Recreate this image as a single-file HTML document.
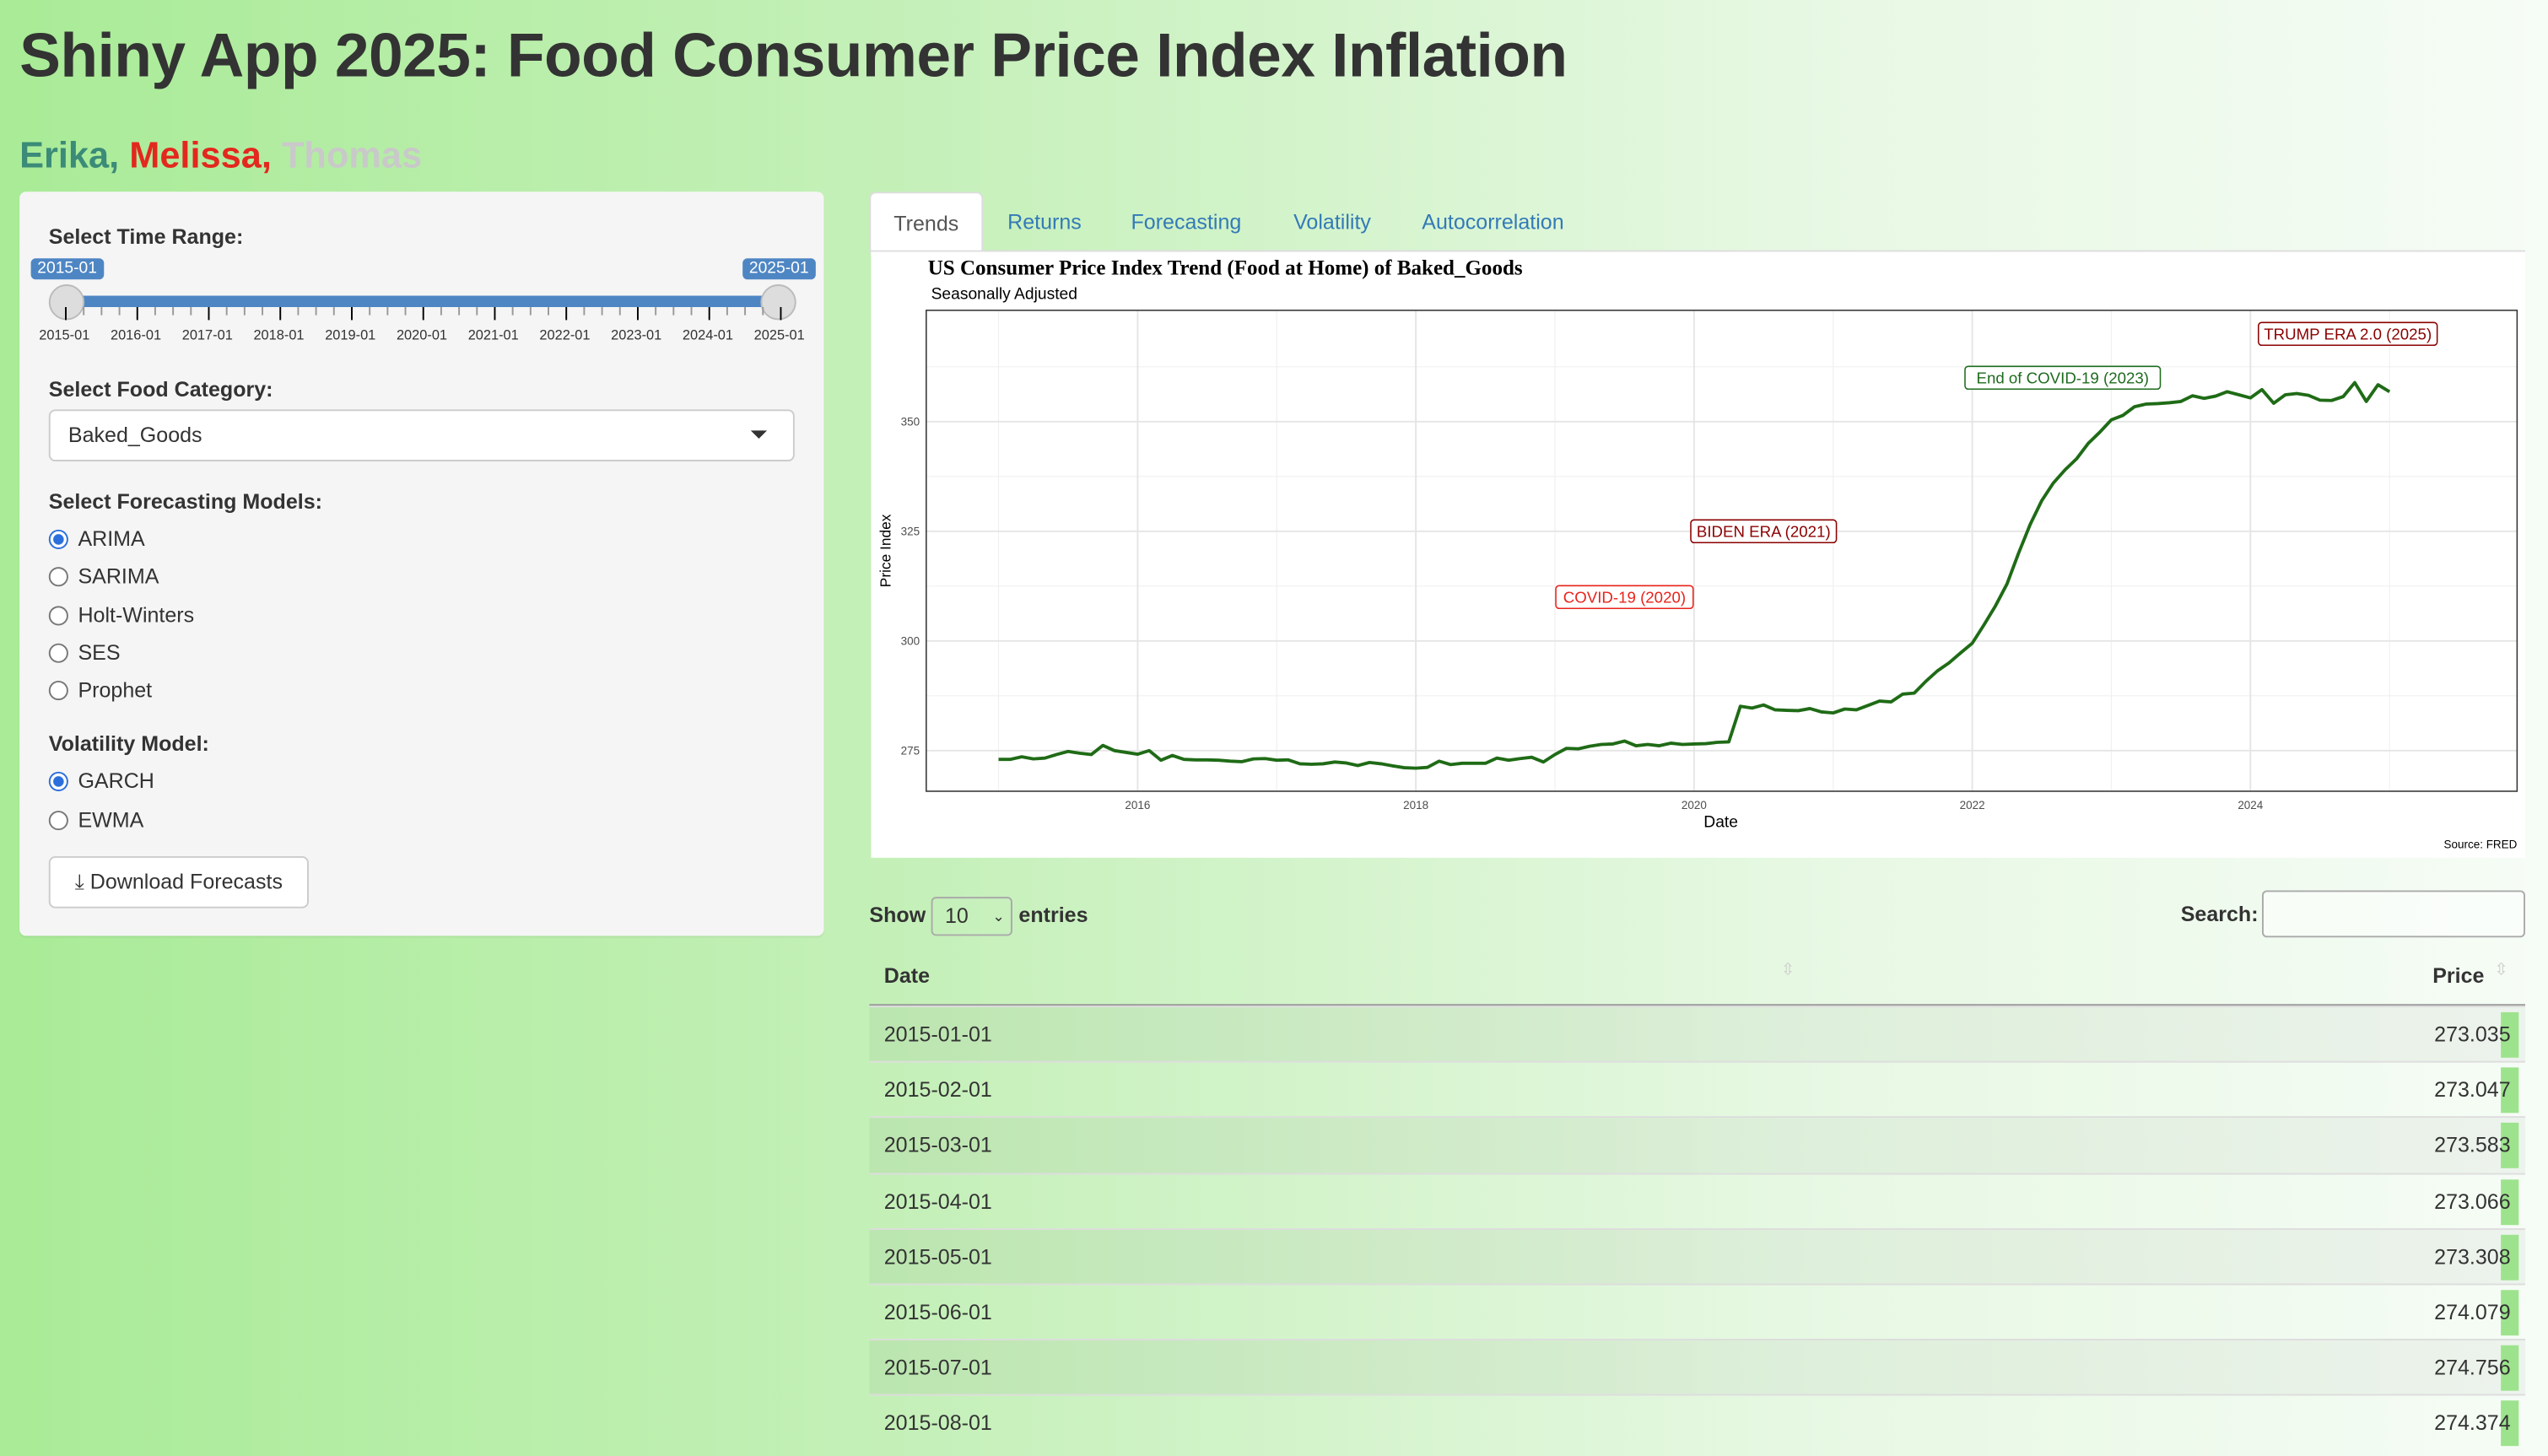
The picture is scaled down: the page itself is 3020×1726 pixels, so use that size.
<!DOCTYPE html>
<html><head><meta charset="utf-8">
<style>
html,body{margin:0;padding:0;width:3020px;height:1726px;overflow:hidden;}
body{background:linear-gradient(90deg,#a9eb97 0%,#c4f0b8 35%,#e6f8e2 70%,#f6fcf6 100%);font-family:"Liberation Sans",sans-serif;color:#333;}
#wrap{position:absolute;left:0;top:0;width:1568px;height:896px;transform:scale(1.926);transform-origin:0 0;}
.abs{position:absolute;}
h1{position:absolute;left:12px;top:14px;margin:0;font-size:38px;font-weight:bold;color:#333;letter-spacing:-0.3px;}
.names{left:12px;top:83px;font-size:22.5px;font-weight:bold;}
.side{left:12px;top:118px;width:495px;height:458px;background:#f5f5f5;border-radius:4px;box-shadow:0 1px 1px rgba(0,0,0,.05);}
.lbl{position:absolute;left:18px;font-size:13px;font-weight:bold;color:#333;}
.radio{position:absolute;left:18px;font-size:13px;color:#333;}
.radio i{display:inline-block;width:10px;height:10px;border:1px solid #777;border-radius:50%;background:#fff;vertical-align:-2px;margin-right:6px;}
.radio i.on{border:1px solid #2a6fdb;background:radial-gradient(circle,#2a6fdb 0 3px,#fff 3.5px);}
.tabs{left:535px;top:118px;height:37px;}
.tab{position:absolute;top:0;height:37px;line-height:37px;font-size:13px;color:#337ab7;}
.tab.act{background:#fff;color:#555;border:1px solid #ddd;border-bottom:none;border-radius:4px 4px 0 0;padding:0 14px;}
.row{position:absolute;left:535px;width:1019px;height:34px;border-top:1px solid #ddd;font-size:13px;}
.row.odd{background:linear-gradient(90deg,rgba(0,0,0,0.04),rgba(0,0,0,0.035));}
.row span{position:absolute;top:9px;}
.bar{position:absolute;right:4px;top:3px;width:11px;height:28px;background:#9de38d;}
</style></head><body>
<div id="wrap">
<h1>Shiny App 2025: Food Consumer Price Index Inflation</h1>
<div class="abs names"><span style="color:#3b8b78">Erika,</span> <span style="color:#e3281e">Melissa,</span> <span style="color:#c9c9c9">Thomas</span></div>

<div class="abs side">
 <div class="lbl" style="top:20px">Select Time Range:</div>
 <div class="abs" style="left:7px;top:41px;background:#4e86c4;color:#fff;font-size:10px;padding:1px 4px;border-radius:3px">2015-01</div>
 <div class="abs" style="left:445px;top:41px;background:#4e86c4;color:#fff;font-size:10px;padding:1px 4px;border-radius:3px">2025-01</div>
 <div class="abs" style="left:28px;top:64px;width:440px;height:7px;background:#4e86c4"></div>
 <div class="abs" style="left:18px;top:57px;width:20px;height:20px;border-radius:50%;background:#ddd;border:1px solid #bbb"></div>
 <div class="abs" style="left:456px;top:57px;width:20px;height:20px;border-radius:50%;background:#ddd;border:1px solid #bbb"></div>
 <div id="ticks"></div>
 <div class="lbl" style="top:114px">Select Food Category:</div>
 <div class="abs" style="left:18px;top:134px;width:457px;height:30px;background:#fff;border:1px solid #ccc;border-radius:4px;font-size:13px;line-height:30px;"><span style="margin-left:11px">Baked_Goods</span><span style="position:absolute;right:16px;top:12px;border-left:5px solid transparent;border-right:5px solid transparent;border-top:5px solid #333"></span></div>
 <div class="lbl" style="top:183px">Select Forecasting Models:</div>
 <div class="radio" style="top:206px"><i class="on"></i>ARIMA</div>
 <div class="radio" style="top:229px"><i></i>SARIMA</div>
 <div class="radio" style="top:253px"><i></i>Holt-Winters</div>
 <div class="radio" style="top:276px"><i></i>SES</div>
 <div class="radio" style="top:299px"><i></i>Prophet</div>
 <div class="lbl" style="top:332px">Volatility Model:</div>
 <div class="radio" style="top:355px"><i class="on"></i>GARCH</div>
 <div class="radio" style="top:379px"><i></i>EWMA</div>
 <div class="abs" style="left:18px;top:409px;width:158px;height:30px;background:#fff;border:1px solid #ccc;border-radius:4px;font-size:13px;line-height:30px;text-align:center">⤓ Download Forecasts</div>
</div>

<div class="abs tabs">
 <div class="tab act" style="left:0">Trends</div>
 <div class="tab" style="left:85px">Returns</div>
 <div class="tab" style="left:161px">Forecasting</div>
 <div class="tab" style="left:261px">Volatility</div>
 <div class="tab" style="left:340px">Autocorrelation</div>
</div>
<div class="abs" style="left:535px;top:154px;width:1019px;height:1px;background:#ddd"></div>

<svg class="abs" style="left:536px;top:155px" width="1018" height="373">
 <rect x="0" y="0" width="1018" height="373" fill="#fff"/>
 <g id="plot"></g>
</svg>

<div class="abs" style="left:535px;top:552px;font-size:13px;font-weight:bold">Show <span style="display:inline-block;width:48px;height:22px;border:1px solid #aaa;border-radius:3px;vertical-align:middle;font-weight:normal;line-height:22px;position:relative">&nbsp;&nbsp;10<span style="position:absolute;right:4px;font-size:9px">⌄</span></span> entries</div>
<div class="abs" style="left:1342px;top:555px;font-size:13px;font-weight:bold">Search:</div>
<div class="abs" style="left:1392px;top:548px;width:160px;height:27px;border:1px solid #aaa;border-radius:3px;background:rgba(255,255,255,0.5)"></div>

<div class="abs" style="left:544px;top:593px;font-size:13px;font-weight:bold">Date</div>
<div class="abs" style="left:1096px;top:592px;font-size:10px;color:#ccc">⇳</div>
<div class="abs" style="left:1497px;top:593px;font-size:13px;font-weight:bold">Price</div>
<div class="abs" style="left:1535px;top:592px;font-size:10px;color:#ccc">⇳</div>
<div class="abs" style="left:535px;top:618px;width:1019px;height:1px;background:#999"></div>
<div id="rows"></div>
</div>

<script>
var dates=["2015-01-01","2015-02-01","2015-03-01","2015-04-01","2015-05-01","2015-06-01","2015-07-01","2015-08-01"];
var prices=["273.035","273.047","273.583","273.066","273.308","274.079","274.756","274.374"];
var rowsEl=document.getElementById('rows');
for(var i=0;i<dates.length;i++){
 var r=document.createElement('div');
 r.className='row'+(i%2==0?' odd':'');
 r.style.top=(619+i*34.2)+'px';
 
 
 r.innerHTML='<span style="left:9px">'+dates[i]+'</span><div class="bar"></div><span style="right:9px">'+prices[i]+'</span>';
 rowsEl.appendChild(r);
}
var tk=document.getElementById('ticks');
var sliderLabels=["2015-01","2016-01","2017-01","2018-01","2019-01","2020-01","2021-01","2022-01","2023-01","2024-01","2025-01"];
for(var j=0;j<=40;j++){
 var t=document.createElement('div');
 var x=28+j*11;
 t.style.cssText='position:absolute;left:'+x+'px;top:71px;width:1px;height:'+(j%4==0?8:5)+'px;background:'+(j%4==0?'#000':'#999');
 
 
 tk.appendChild(t);
}
for(var k=0;k<sliderLabels.length;k++){
 var l=document.createElement('div');
 l.style.cssText='position:absolute;left:'+(28+k*44-16)+'px;top:83px;font-size:8.5px;color:#333';
 l.textContent=sliderLabels[k];
 
 
 tk.appendChild(l);
}

var startYear=2015;
var values=[
273.0,273.0,273.6,273.1,273.3,274.1,274.8,274.4,274.1,276.2,275.0,274.6,
274.2,275.0,272.8,273.9,273.0,272.9,272.9,272.8,272.6,272.5,273.1,273.2,
272.8,272.9,272.0,271.9,272.0,272.4,272.2,271.6,272.3,272.0,271.5,271.1,
271.0,271.2,272.6,271.8,272.1,272.1,272.1,273.3,272.8,273.2,273.5,272.4,
274.1,275.5,275.4,276.0,276.4,276.5,277.2,276.1,276.4,276.1,276.7,276.4,
276.5,276.6,276.9,277.0,285.1,284.7,285.4,284.3,284.2,284.1,284.6,283.8,
283.6,284.5,284.3,285.3,286.3,286.1,287.9,288.1,290.8,293.2,295.0,297.3,
299.5,303.6,308.0,313.0,320.0,326.6,332.0,336.0,339.0,341.5,345.0,347.6,
350.4,351.4,353.4,354.0,354.1,354.3,354.6,355.9,355.3,355.8,356.8,356.1,
355.4,357.3,354.2,356.1,356.4,356.0,354.9,354.8,355.7,358.9,354.6,358.4,
356.8];
var yTicks=[275,300,325,350];
var xTicks=[2016,2018,2020,2022,2024];
var annoText=["COVID-19 (2020)","BIDEN ERA (2021)","End of COVID-19 (2023)","TRUMP ERA 2.0 (2025)"];
var annoDate=[2019.5,2020.5,2022.65,2024.7];
var annoVal=[310,325,360,370];
var annoColor=["#e8231b","#8b0000","#1e6b1e","#8b0000"];

var OX=-536,OY=-155;
function xs(yr){return 614.5+(yr-startYear)*85.6+OX;}
function ys(v){return 462-(v-275)*2.7+OY;}
var NS='http://www.w3.org/2000/svg';
var g=document.getElementById('plot');
function el(tag,attrs,txt){var e=document.createElementNS(NS,tag);for(var a in attrs)e.setAttribute(a,attrs[a]);if(txt!=null)e.textContent=txt;g.appendChild(e);return e;}
var L=570+OX,R=1549+OX,T=191+OY,B=487+OY;
for(var m=2015;m<=2025;m+=2){var gl=el('line',{x1:xs(m),x2:xs(m),y1:T,y2:B,stroke:'#f0f0f0','stroke-width':0.6});}
for(var v=287.5;v<=362.5;v+=25){var gh=el('line',{x1:L,x2:R,y1:ys(v),y2:ys(v),stroke:'#f0f0f0','stroke-width':0.6});}
for(var i2=0;i2<xTicks.length;i2++){
 var x=xs(xTicks[i2]);
 var a=el('line',{x1:x,x2:x,y1:T,y2:B,stroke:'#e5e5e5','stroke-width':1});
 
 var b=el('text',{x:x,y:B+11,'font-size':7,'text-anchor':'middle',fill:'#4d4d4d','font-family':'Liberation Sans'},String(xTicks[i2]));
 
}
for(var i3=0;i3<yTicks.length;i3++){
 var y=ys(yTicks[i3]);
 var c=el('line',{x1:L,x2:R,y1:y,y2:y,stroke:'#e5e5e5','stroke-width':1});
 
 var d=el('text',{x:L-4,y:y+2.5,'font-size':7,'text-anchor':'end',fill:'#4d4d4d','font-family':'Liberation Sans'},String(yTicks[i3]));
 
}
var fr=el('rect',{x:L,y:T,width:R-L,height:B-T,fill:'none',stroke:'#333','stroke-width':0.8});

var pts=values.map(function(v,i){return xs(startYear+i/12).toFixed(1)+','+ys(v).toFixed(1);}).join(' ');
var ln=el('polyline',{points:pts,fill:'none',stroke:'#1f6b16','stroke-width':2,'stroke-linejoin':'round'});

for(var i4=0;i4<annoText.length;i4++){
 var cx=xs(annoDate[i4]),cy=ys(annoVal[i4]);
 var w=annoText[i4].length*5.1+8;
 var rb=el('rect',{x:cx-w/2,y:cy-7,width:w,height:14,rx:2,fill:'#fff',stroke:annoColor[i4],'stroke-width':0.8});
 
 var tt=el('text',{x:cx,y:cy+3.5,'font-size':9.7,'text-anchor':'middle',fill:annoColor[i4],'font-family':'Liberation Sans'},annoText[i4]);
 
}
var t1=el('text',{x:35,y:14,'font-size':13,'font-weight':'bold','font-family':'Liberation Serif',fill:'#000'},'US Consumer Price Index Trend (Food at Home) of Baked_Goods');

var t2=el('text',{x:37,y:29,'font-size':10,'font-family':'Liberation Sans',fill:'#000'},'Seasonally Adjusted');

var t3=el('text',{x:523,y:354,'font-size':10,'text-anchor':'middle','font-family':'Liberation Sans',fill:'#000'},'Date');

var t4=el('text',{x:12,y:184,'font-size':9,'text-anchor':'middle','font-family':'Liberation Sans',fill:'#000',transform:'rotate(-90 12 184)'},'Price Index');

var t5=el('text',{x:1013,y:367,'font-size':7,'text-anchor':'end','font-family':'Liberation Sans',fill:'#000'},'Source: FRED');

</script>
</body></html>
